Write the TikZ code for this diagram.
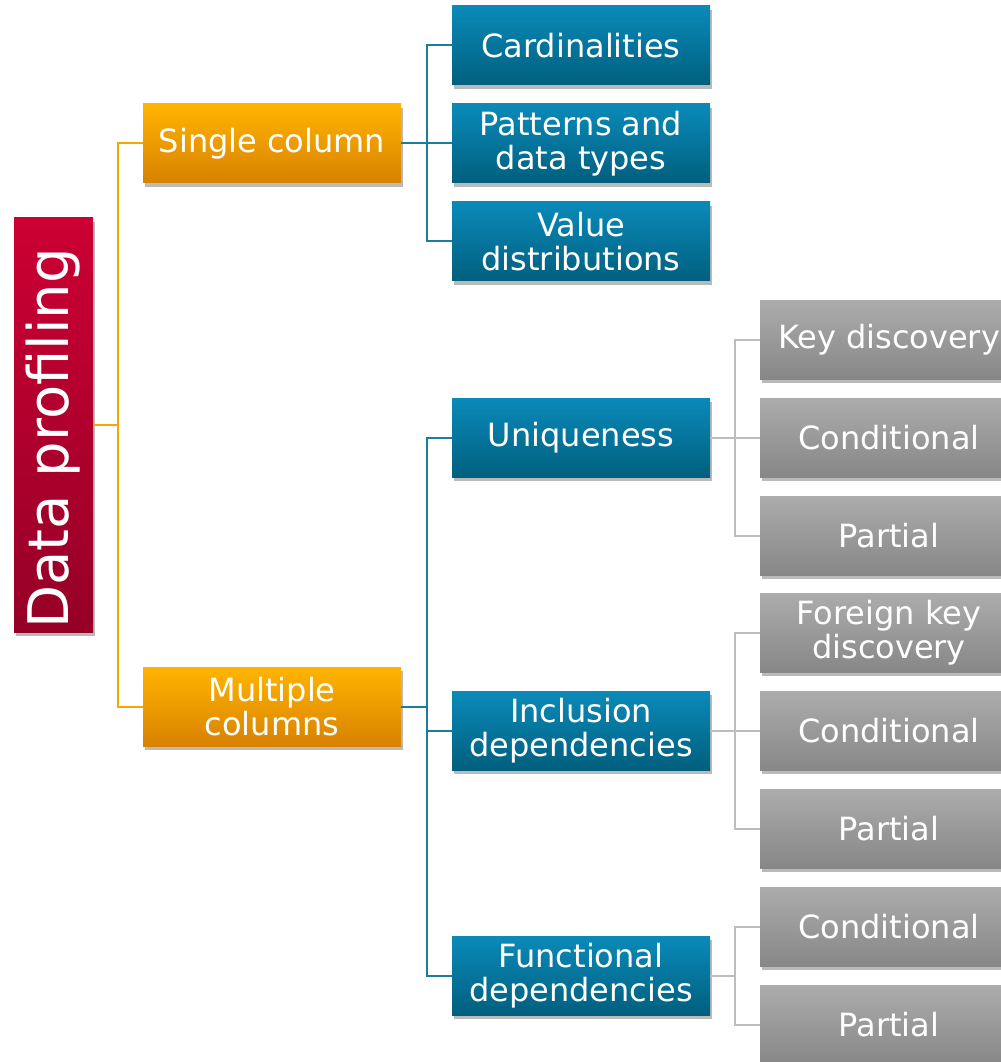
\documentclass[tikz,border=0pt]{standalone}
\usepackage{fontspec}
\setmainfont{DejaVu Sans}
\usetikzlibrary{shadows}
\definecolor{redTop}{HTML}{CC0033}
\definecolor{redBot}{HTML}{950027}
\definecolor{orTop}{HTML}{FFB400}
\definecolor{orBot}{HTML}{D88200}
\definecolor{blTop}{HTML}{0A8AB9}
\definecolor{blBot}{HTML}{005F7E}
\definecolor{grTop}{HTML}{ACACAC}
\definecolor{grBot}{HTML}{878787}
\definecolor{orLine}{HTML}{F5A800}
\definecolor{blLine}{HTML}{1A7C9E}
\definecolor{grLine}{HTML}{BDBDBD}
\begin{document}
\begin{tikzpicture}[x=0.75pt,y=-0.75pt,
  box/.style={rectangle, minimum width=193.5pt, minimum height=59.25pt, inner sep=0pt,
    text=white, align=center, font=\fontsize{24}{25.5}\selectfont,
    drop shadow={opacity=0.45, fill=black!60, shadow xshift=1.5pt, shadow yshift=-3pt}},
  orbox/.style={box, top color=orTop, bottom color=orBot},
  blbox/.style={box, top color=blTop, bottom color=blBot},
  grbox/.style={box, top color=grTop, bottom color=grBot},
  rootbox/.style={rectangle, rotate=90, minimum width=310.5pt, minimum height=59.25pt, inner sep=0pt,
    text=white, font=\fontsize{42}{44}\selectfont, top color=redTop, bottom color=redBot,
    drop shadow={opacity=0.45, fill=black!60, shadow xshift=1.5pt, shadow yshift=-3pt}},
  orline/.style={draw=orLine, line width=1.5pt},
  blline/.style={draw=blLine, line width=1.5pt},
  grline/.style={draw=grLine, line width=1.5pt}
]
\useasboundingbox (0,0) rectangle (1000,1062);

\node[rootbox] (root) at (53.5,425) {Data profiling\hspace*{20pt}};

\node[orbox] (single) at (272,143.5) {Single column};
\node[orbox] (multi) at (272,706.5) {Multiple\\columns};

\node[blbox] (card) at (581,45.5) {Cardinalities};
\node[blbox] (patt) at (581,143.5) {Patterns and\\data types};
\node[blbox] (value) at (581,241.5) {Value\\distributions};
\node[blbox] (uniq) at (581,437.5) {Uniqueness};
\node[blbox] (incl) at (581,730.5) {Inclusion\\dependencies};
\node[blbox] (func) at (581,975.5) {Functional\\dependencies};

\node[grbox] (key) at (889,339.5) {Key discovery};
\node[grbox] (cond1) at (889,437.5) {Conditional};
\node[grbox] (part1) at (889,535.5) {Partial};
\node[grbox] (fk) at (889,632.5) {Foreign key\\discovery};
\node[grbox] (cond2) at (889,730.5) {Conditional};
\node[grbox] (part2) at (889,828.5) {Partial};
\node[grbox] (cond3) at (889,926.5) {Conditional};
\node[grbox] (part3) at (889,1024.5) {Partial};

\coordinate (j0) at (118,425);
\draw[orline] (root.south) -- (j0);
\draw[orline] (j0) |- (single.west);
\draw[orline] (j0) |- (multi.west);

\coordinate (j1) at (427,143.5);
\draw[blline] (single.east) -- (j1);
\draw[blline] (j1) |- (card.west);
\draw[blline] (j1) -- (patt.west);
\draw[blline] (j1) |- (value.west);

\coordinate (j2) at (427,706.5);
\draw[blline] (multi.east) -- (j2);
\draw[blline] (j2) |- (uniq.west);
\draw[blline] (j2) |- (incl.west);
\draw[blline] (j2) |- (func.west);

\coordinate (j3) at (735,437.5);
\draw[grline] (uniq.east) -- (j3);
\draw[grline] (j3) |- (key.west);
\draw[grline] (j3) -- (cond1.west);
\draw[grline] (j3) |- (part1.west);

\coordinate (j4) at (735,730.5);
\draw[grline] (incl.east) -- (j4);
\draw[grline] (j4) |- (fk.west);
\draw[grline] (j4) -- (cond2.west);
\draw[grline] (j4) |- (part2.west);

\coordinate (j5) at (735,975.5);
\draw[grline] (func.east) -- (j5);
\draw[grline] (j5) |- (cond3.west);
\draw[grline] (j5) |- (part3.west);
\end{tikzpicture}
\end{document}
